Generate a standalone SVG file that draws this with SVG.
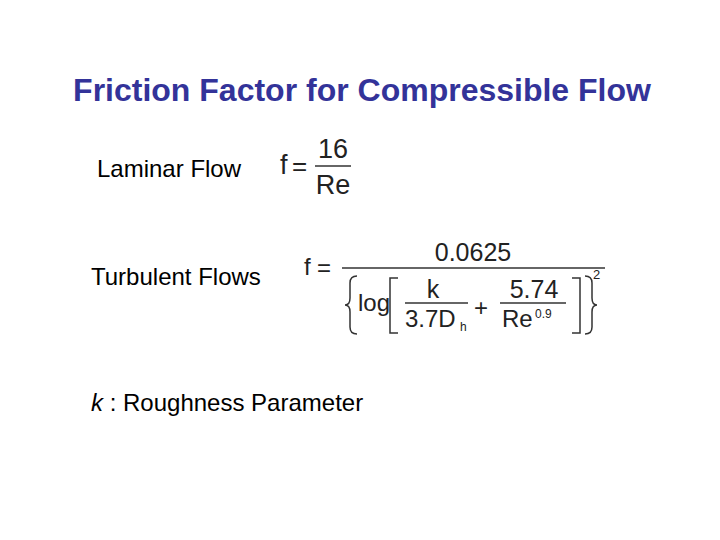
<svg xmlns="http://www.w3.org/2000/svg" width="720" height="540" viewBox="0 0 720 540">
<style>
.t{font-family:"Liberation Sans",Arial,sans-serif;fill:#000}
.m{font-family:"Liberation Sans",Arial,sans-serif;fill:#222}
.ln{stroke:#333;stroke-width:1.3;fill:none}
.br{stroke:#333;stroke-width:1.5;fill:none}
</style>
<rect width="720" height="540" fill="#fff"/>
<g id="title"><text x="362" y="101" text-anchor="middle" class="t" style="font-size:32px;font-weight:bold;fill:#333399">Friction Factor for Compressible Flow</text></g>
<g id="laminar"><text x="97" y="177" class="t" font-size="24">Laminar Flow</text></g>
<g id="turbulent"><text x="91" y="285" class="t" font-size="24">Turbulent Flows</text></g>
<g id="legend"><text x="91" y="411" class="t" font-size="24"><tspan font-style="italic">k</tspan> : Roughness Parameter</text></g>
<g id="eq1">
<text x="280" y="174" class="m" font-size="27">f</text>
<text x="292" y="175" class="m" font-size="26">=</text>
<text x="333" y="158" class="m" font-size="27" text-anchor="middle">16</text>
<line x1="315" y1="166" x2="351" y2="166" class="ln"/>
<text x="333" y="194" class="m" font-size="27" text-anchor="middle">Re</text>
</g>
<g id="eq2">
<text x="304" y="275" class="m" font-size="24">f</text>
<text x="317" y="276" class="m" font-size="24">=</text>
<text x="473" y="261" class="m" font-size="25" text-anchor="middle">0.0625</text>
<line x1="342" y1="268" x2="605" y2="268" class="ln"/>
<path d="M357,276 Q350,276 350,283 L350,298 Q350,305 345,305 Q350,305 350,312 L350,327 Q350,334 357,334" class="br"/>
<text x="358" y="311" class="m" font-size="24">log</text>
<path d="M398,278 L390,278 L390,333 L398,333" class="br"/>
<text x="433" y="298" class="m" font-size="25" text-anchor="middle">k</text>
<line x1="405" y1="303" x2="468" y2="303" class="ln"/>
<text x="405" y="327" class="m" font-size="24">3.7D</text>
<text x="460" y="331" class="m" font-size="12">h</text>
<text x="474" y="316" class="m" font-size="24">+</text>
<text x="534" y="298" class="m" font-size="25" text-anchor="middle">5.74</text>
<line x1="500" y1="303" x2="566" y2="303" class="ln"/>
<text x="502" y="327" class="m" font-size="24">Re</text>
<text x="535" y="318" class="m" font-size="12">0.9</text>
<path d="M572,278 L580,278 L580,333 L572,333" class="br"/>
<path d="M585,276 Q592,276 592,283 L592,298 Q592,305 597,305 Q592,305 592,312 L592,327 Q592,334 585,334" class="br"/>
<text x="593" y="279" class="m" font-size="13">2</text>
</g>
</svg>
